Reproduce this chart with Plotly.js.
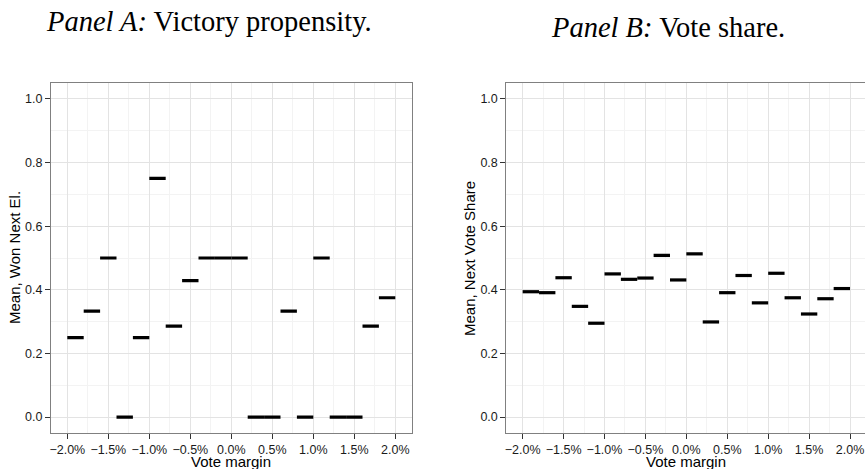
<!DOCTYPE html>
<html>
<head>
<meta charset="utf-8">
<script src="https://cdn.plot.ly/plotly-3.0.1.min.js"></script>
<style>
html,body{margin:0;padding:0;background:#fff;overflow:hidden;width:865px;height:469px;}
#chart{width:868px;height:469px;}
</style>
</head>
<body>
<div id="chart"></div>
<script>
// Bin edges of the vote margin (%), 0.2-point bins
const binLo = [-2.0,-1.8,-1.6,-1.4,-1.2,-1.0,-0.8,-0.6,-0.4,-0.2,0.0,0.2,0.4,0.6,0.8,1.0,1.2,1.4,1.6,1.8];
const binHi = [-1.8,-1.6,-1.4,-1.2,-1.0,-0.8,-0.6,-0.4,-0.2,0.0,0.2,0.4,0.6,0.8,1.0,1.2,1.4,1.6,1.8,2.0];

// Panel A: mean of "won next election"
const wonNext = [0.25,0.333,0.5,0.0,0.25,0.75,0.286,0.429,0.5,0.5,0.5,0.0,0.0,0.333,0.0,0.5,0.0,0.0,0.286,0.375];

// Panel B: mean of next vote share
const voteShare = [0.394,0.391,0.438,0.348,0.295,0.450,0.433,0.437,0.508,0.431,0.513,0.299,0.391,0.445,0.359,0.452,0.375,0.324,0.372,0.404];

// Tick labels
const xTickVals = [-2.0,-1.5,-1.0,-0.5,0.0,0.5,1.0,1.5,2.0];
const xTickText = ['\u22122.0%','\u22121.5%','\u22121.0%','\u22120.5%','0.0%','0.5%','1.0%','1.5%','2.0%'];
const yTickVals = [0.0,0.2,0.4,0.6,0.8,1.0];
const yTickText = ['0.0','0.2','0.4','0.6','0.8','1.0'];

const titleA = '<i>Panel A:</i> Victory propensity.';
const titleB = '<i>Panel B:</i> Vote share.';
const xTitle = 'Vote margin';
const yTitleA = 'Mean, Won Next El.';
const yTitleB = 'Mean, Next Vote Share';

function segs(vals){
  const x=[], y=[];
  for(let i=0;i<vals.length;i++){
    x.push(binLo[i], binHi[i], null);
    y.push(vals[i], vals[i], null);
  }
  return {x, y};
}

const W = 868, H = 469;
const px = p => p / W;
const py = p => 1 - p / H;

const sA = segs(wonNext), sB = segs(voteShare);
const segLine = {color:'#000000', width:3.2};
const traces = [
  {type:'scatter', mode:'lines', x:sA.x, y:sA.y, line:segLine, xaxis:'x', yaxis:'y', hoverinfo:'skip', connectgaps:false},
  {type:'scatter', mode:'lines', x:sB.x, y:sB.y, line:segLine, xaxis:'x2', yaxis:'y2', hoverinfo:'skip', connectgaps:false}
];

const tickFont = {family:'"Liberation Sans", Arial, sans-serif', size:12.5, color:'#1a1a1a'};
function xAx(domain){
  return {
    domain, range:[-2.2, 2.2], tickmode:'array', tickvals:xTickVals, ticktext:xTickText,
    ticks:'outside', ticklen:5, tickwidth:1, tickcolor:'#333333', tickfont:tickFont,
    showgrid:true, gridcolor:'#e3e3e3', gridwidth:1,
    minor:{dtick:0.25, tick0:0, showgrid:true, gridcolor:'#f3f3f3', gridwidth:1},
    showline:true, mirror:true, linecolor:'#808080', linewidth:1, zeroline:false, fixedrange:true
  };
}
function yAx(domain, anchor){
  return {
    domain, anchor, range:[-0.05, 1.05], tickmode:'array', tickvals:yTickVals, ticktext:yTickText,
    ticks:'outside', ticklen:5, tickwidth:1, tickcolor:'#333333', tickfont:tickFont,
    showgrid:true, gridcolor:'#e3e3e3', gridwidth:1,
    minor:{dtick:0.1, tick0:0, showgrid:true, gridcolor:'#f3f3f3', gridwidth:1},
    showline:true, mirror:true, linecolor:'#808080', linewidth:1, zeroline:false, fixedrange:true
  };
}

const yDom = [py(433), py(83)];
const titleFont = {family:'"Liberation Serif", "Times New Roman", serif', size:28.5, color:'#000000'};
const axTitleFont = {family:'"Liberation Sans", Arial, sans-serif', size:15, color:'#000000'};

const layout = {
  width: W, height: H,
  margin:{l:0, r:0, t:0, b:0, pad:0},
  paper_bgcolor:'#ffffff', plot_bgcolor:'#ffffff',
  showlegend:false,
  xaxis: Object.assign(xAx([px(50.9), px(411.7)]), {anchor:'y'}),
  yaxis: yAx(yDom, 'x'),
  xaxis2: Object.assign(xAx([px(506.3), px(866.4)]), {anchor:'y2'}),
  yaxis2: yAx(yDom, 'x2'),
  annotations: [
    {text:titleA, x:px(208.5), y:py(21), xref:'paper', yref:'paper', xanchor:'center', yanchor:'middle', showarrow:false, font:titleFont},
    {text:titleB, x:px(667.5), y:py(27.5), xref:'paper', yref:'paper', xanchor:'center', yanchor:'middle', showarrow:false, font:titleFont},
    {text:xTitle, x:px(231.3), y:py(461.5), xref:'paper', yref:'paper', xanchor:'center', yanchor:'middle', showarrow:false, font:axTitleFont},
    {text:xTitle, x:px(686.4), y:py(461.5), xref:'paper', yref:'paper', xanchor:'center', yanchor:'middle', showarrow:false, font:axTitleFont},
    {text:yTitleA, x:px(14), y:py(258), xref:'paper', yref:'paper', xanchor:'center', yanchor:'middle', showarrow:false, textangle:-90, font:axTitleFont},
    {text:yTitleB, x:px(469), y:py(258), xref:'paper', yref:'paper', xanchor:'center', yanchor:'middle', showarrow:false, textangle:-90, font:axTitleFont}
  ]
};

Plotly.newPlot('chart', traces, layout, {displayModeBar:false, staticPlot:true});
</script>
</body>
</html>
